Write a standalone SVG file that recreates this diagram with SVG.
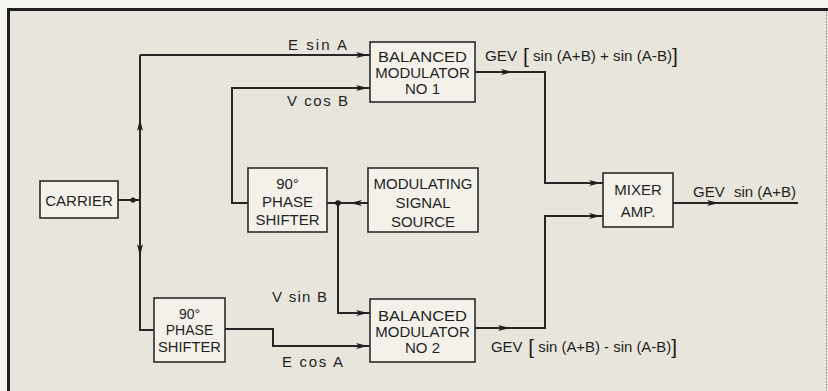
<svg xmlns="http://www.w3.org/2000/svg" width="828" height="391" viewBox="0 0 828 391">
<style>
.box{fill:#f3f1ea;stroke:#2b2b2b;stroke-width:1.6}
.t{font-family:"Liberation Sans",Arial,sans-serif;font-size:15px;fill:#1f1f1f;text-anchor:middle}
.s{font-size:14px}
.l{font-family:"Liberation Sans",Arial,sans-serif;font-size:15px;fill:#1f1f1f}
.w{fill:none;stroke:#262626;stroke-width:2;stroke-linejoin:miter}
.a{fill:#1f1f1f}
</style>
<defs>
<path id="arr" d="M0,0 L-12,-3 L-9,0 L-12,3 Z"/>
</defs>
<rect x="0" y="0" width="828" height="391" fill="#f6f4ee"/>
<rect x="9" y="10" width="819" height="381" fill="#e8e5dc"/>
<line x1="7" y1="9.5" x2="828" y2="9.5" stroke="#1e1e1e" stroke-width="3"/>
<line x1="8.5" y1="8" x2="8.5" y2="391" stroke="#1e1e1e" stroke-width="3"/>
<line x1="826.5" y1="12" x2="826.5" y2="391" stroke="#8a877f" stroke-width="1" stroke-dasharray="1.5 1.5"/>

<g id="connectors">
<path class="w" d="M118,200 H140"/>
<path class="w" d="M140,55 V330 H154"/>
<path class="w" d="M140,55 H370"/>
<path class="w" d="M248,203 H232 V88 H370"/>
<path class="w" d="M327,203 H368"/>
<path class="w" d="M338,203 V313 H370"/>
<path class="w" d="M225,329 H273 V346 H370"/>
<path class="w" d="M475,72 H545 V183 H603"/>
<path class="w" d="M475,328 H545 V216 H603"/>
<path class="w" d="M673,203 H798"/>
<circle class="a" cx="133" cy="200" r="2.6"/>
<circle class="a" cx="338" cy="203" r="2.8"/>
<use href="#arr" class="a" transform="translate(140,119) rotate(-90)"/>
<use href="#arr" class="a" transform="translate(140,256) rotate(90)"/>
<use href="#arr" class="a" transform="translate(368,55)"/>
<use href="#arr" class="a" transform="translate(368,88)"/>
<use href="#arr" class="a" transform="translate(350,203) rotate(180)"/>
<use href="#arr" class="a" transform="translate(368,313)"/>
<use href="#arr" class="a" transform="translate(368,346)"/>
<use href="#arr" class="a" transform="translate(513,72)"/>
<use href="#arr" class="a" transform="translate(601,183)"/>
<use href="#arr" class="a" transform="translate(510,328)"/>
<use href="#arr" class="a" transform="translate(601,216)"/>
<use href="#arr" class="a" transform="translate(719,203)"/>
</g>

<g id="carrier">
<rect class="box" x="40" y="181" width="78" height="37"/>
<text class="t" x="79" y="206">CARRIER</text>
</g>
<g id="bm1">
<rect class="box" x="370" y="42" width="105" height="60"/>
<text class="t" x="422.5" y="62" textLength="89" lengthAdjust="spacingAndGlyphs">BALANCED</text>
<text class="t" x="422.5" y="78">MODULATOR</text>
<text class="t" x="422.5" y="94">NO 1</text>
</g>
<g id="ps1">
<rect class="box" x="248" y="168" width="79" height="64"/>
<text class="t" x="287.5" y="189">90°</text>
<text class="t" x="287.5" y="207">PHASE</text>
<text class="t" x="287.5" y="225">SHIFTER</text>
</g>
<g id="mss">
<rect class="box" x="368" y="168" width="110" height="64"/>
<text class="t" x="423" y="188.5">MODULATING</text>
<text class="t" x="423" y="207.5">SIGNAL</text>
<text class="t" x="423" y="226.5">SOURCE</text>
</g>
<g id="ps2">
<rect class="box" x="154" y="298" width="71" height="64"/>
<text class="t s" x="189.5" y="318.5">90°</text>
<text class="t s" x="189.5" y="335">PHASE</text>
<text class="t s" x="189.5" y="352" textLength="63" lengthAdjust="spacingAndGlyphs">SHIFTER</text>
</g>
<g id="bm2">
<rect class="box" x="370" y="299" width="105" height="63"/>
<text class="t" x="422.5" y="320.5" textLength="89" lengthAdjust="spacingAndGlyphs">BALANCED</text>
<text class="t" x="422.5" y="336.5">MODULATOR</text>
<text class="t" x="422.5" y="352.5">NO 2</text>
</g>
<g id="mixer">
<rect class="box" x="603" y="173" width="70" height="54"/>
<text class="t" x="638" y="194.5">MIXER</text>
<text class="t" x="638" y="216.5">AMP.</text>
</g>

<g id="labels">
<text class="l" x="288" y="50" textLength="59" lengthAdjust="spacing">E sin A</text>
<text class="l" x="287" y="106" textLength="61" lengthAdjust="spacing">V cos B</text>
<text class="l" x="272" y="302" textLength="55" lengthAdjust="spacing">V sin B</text>
<text class="l" x="282" y="367" textLength="61" lengthAdjust="spacing">E cos A</text>
<text class="l" x="485" y="61" textLength="193" lengthAdjust="spacingAndGlyphs">GEV<tspan font-size="21" dy="1.5"> [</tspan><tspan dy="-1.5"> sin (A+B) + sin (A-B)</tspan><tspan font-size="21" dy="1.5">]</tspan></text>
<text class="l" x="693" y="197">GEV<tspan x="734">sin (A+B)</tspan></text>
<text class="l" x="491" y="352" textLength="186" lengthAdjust="spacingAndGlyphs">GEV<tspan font-size="21" dy="1.5"> [</tspan><tspan dy="-1.5"> sin (A+B) - sin (A-B)</tspan><tspan font-size="21" dy="1.5">]</tspan></text>
</g>
</svg>
